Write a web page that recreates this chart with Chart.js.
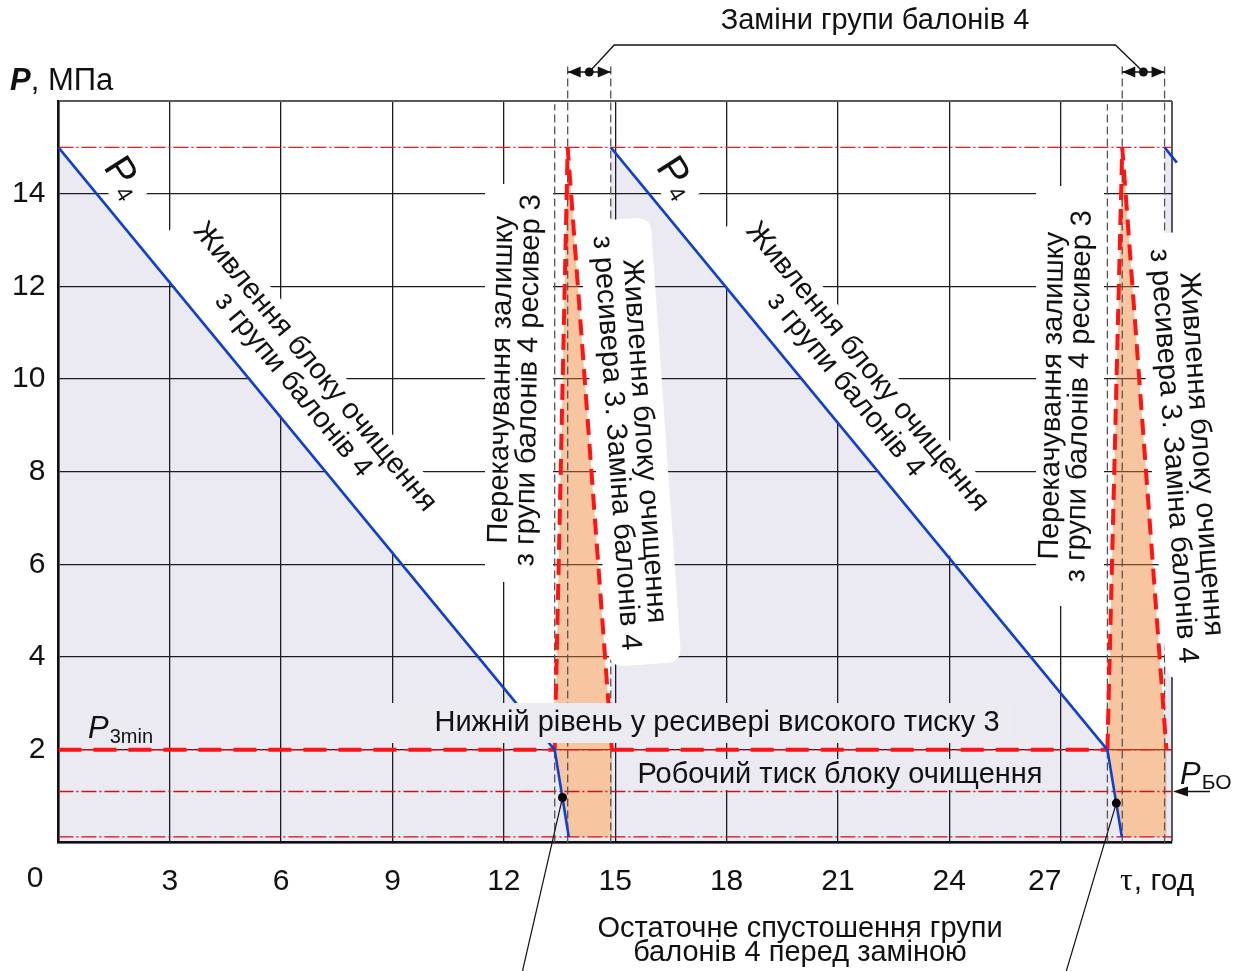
<!DOCTYPE html>
<html lang="uk">
<head>
<meta charset="utf-8">
<title>Тиск у групі балонів 4 та ресивері 3</title>
<script src="https://cdn.jsdelivr.net/npm/chart.js@4.4.1/dist/chart.umd.min.js"></script>
<style>
  html, body { margin: 0; padding: 0; background: #fff; }
  canvas { display: block; }
</style>
</head>
<body>
<canvas id="chart" width="1243" height="971"></canvas>
<script>
// Time axis (τ, h) and pressure axis (P, MPa)
const xTicks = [3, 6, 9, 12, 15, 18, 21, 24];
const yTicks = [2, 4, 6, 8, 10, 12, 14];
const xCornerTicks = [0, 27];

// Supply of the cleaning unit from cylinder group 4, three cycles
const supplyT1 = [0, 13.37, 13.75];
const supplyP1 = [15, 2, 0.12];
const supplyT2 = [14.88, 28.26, 28.65];
const supplyP2 = [15, 2, 0.12];
const supplyT3 = [29.8, 30.13];
const supplyP3 = [15, 14.67];

// Receiver 3: transfer of the remainder, then supply while group 4 is replaced
const receiverT1 = [13.37, 13.72, 14.91];
const receiverT2 = [28.26, 28.66, 29.85];
const receiverP = [2, 15, 2];

// Pressure levels
const pGroupFull = 15;  // P4
const pRecvMin = 2;     // P3min
const pUnit = 1.1;      // PБО
const pEmpty = 0.12;

// Final emptying of group 4 before replacement
const drainT = [13.58, 28.5];
const drainP = [0.97, 0.85];

// ---- styles ----
const FONT = '"Liberation Sans", Arial, Helvetica, sans-serif';
const SERIF = '"Liberation Serif", "Times New Roman", serif';
const TXT = 29;
const BLUE = '#1040cc';
const RED = '#ff1414';
const DARK_RED = '#d0101a';
const LAVENDER = 'rgba(40, 20, 110, 0.095)';
const PEACH = 'rgba(238, 128, 44, 0.45)';
const LABEL_BG = '#ecebf2';
const INK = '#111';

const pts = (ts, ps) => ts.map((t, i) => ({ x: t, y: ps[i] }));
const gapAt = t => ({ x: t, y: null });

// area under the group 4 pressure curve
const lavenderPts = [
  ...pts(supplyT1, supplyP1),
  { x: supplyT2[0], y: pEmpty },
  ...pts(supplyT2, supplyP2),
  { x: supplyT3[0], y: pEmpty },
  ...pts(supplyT3, supplyP3)
];

// receiver 3 region: triangle plus the strip under it down to the emptying level
function receiverShape(rt, st, sp) {
  return [
    ...pts(rt, receiverP),
    { x: rt[2], y: pEmpty },
    { x: st[2], y: sp[2] },
    { x: rt[0], y: receiverP[0] }
  ];
}

const levelLine = (p, color) => ({
  data: [{ x: 0, y: p }, { x: 30, y: p }],
  borderColor: color, borderWidth: 1.3, borderDash: [15, 3, 2, 3],
  pointRadius: 0, fill: false, order: 8
});

const dashedTimes = [
  { t: receiverT1[0], top: 15.93 }, { t: receiverT1[1], top: 16.8 }, { t: supplyT2[0], top: 16.8 },
  { t: receiverT2[0], top: 15.93 }, { t: receiverT2[1], top: 16.8 }, { t: supplyT3[0], top: 16.8 }
];
const dashedPts = [];
dashedTimes.forEach(d => { dashedPts.push({ x: d.t, y: 0 }, { x: d.t, y: d.top }, gapAt(d.t)); });

const datasets = [
  { data: lavenderPts, fill: 'origin', backgroundColor: LAVENDER, borderWidth: 0, pointRadius: 0, order: 10 },
  { data: receiverShape(receiverT1, supplyT1, supplyP1), fill: 'shape', backgroundColor: PEACH, borderWidth: 0, pointRadius: 0, order: 9 },
  { data: receiverShape(receiverT2, supplyT2, supplyP2), fill: 'shape', backgroundColor: PEACH, borderWidth: 0, pointRadius: 0, order: 9 },
  levelLine(pGroupFull, RED),
  levelLine(pRecvMin, RED),
  levelLine(pUnit, DARK_RED),
  levelLine(pEmpty, DARK_RED),
  { data: dashedPts, borderColor: '#555', borderWidth: 1.3, borderDash: [8, 4], pointRadius: 0, fill: false, clip: false, order: 7 },
  { data: [{ x: 0, y: pRecvMin }, { x: supplyT1[1], y: pRecvMin }, gapAt(supplyT1[1]),
           { x: supplyT2[0], y: pRecvMin }, { x: supplyT2[1], y: pRecvMin }],
    borderColor: RED, borderWidth: 4, borderDash: [23, 12], pointRadius: 0, fill: false, order: 6 },
  { data: [...pts(receiverT1, receiverP), gapAt(receiverT1[2]), ...pts(receiverT2, receiverP)],
    borderColor: RED, borderWidth: 4, borderDash: [16, 9], pointRadius: 0, fill: false, order: 6 },
  { data: [...pts(supplyT1, supplyP1), gapAt(supplyT1[2]), ...pts(supplyT2, supplyP2), gapAt(supplyT2[2]), ...pts(supplyT3, supplyP3)],
    borderColor: BLUE, borderWidth: 2.6, pointRadius: 0, fill: false, clip: false, order: 5 },
  { data: pts(drainT, drainP), showLine: false, pointRadius: 4.5, pointBackgroundColor: '#000', pointBorderWidth: 0, order: 1 }
];

// ---- drawing helpers ----
function rotRect(ctx, cx, cy, deg, w, h, r, color) {
  ctx.save();
  ctx.translate(cx, cy);
  ctx.rotate(deg * Math.PI / 180);
  ctx.fillStyle = color;
  ctx.beginPath();
  if (r > 0 && ctx.roundRect) ctx.roundRect(-w / 2, -h / 2, w, h, r);
  else ctx.rect(-w / 2, -h / 2, w, h);
  ctx.fill();
  ctx.restore();
}

function rotLines(ctx, lines, cx, cy, deg, size, pitch) {
  ctx.save();
  ctx.translate(cx, cy);
  ctx.rotate(deg * Math.PI / 180);
  ctx.font = `${size}px ${FONT}`;
  ctx.fillStyle = INK;
  ctx.textAlign = 'center';
  ctx.textBaseline = 'middle';
  const n = lines.length;
  lines.forEach((s, i) => ctx.fillText(s, 0, (i - (n - 1) / 2) * pitch));
  ctx.restore();
}

// main text with a subscript, left edge at x, baseline at y
function subText(ctx, main, sub, x, y, mainFont, subFont, subDrop) {
  ctx.save();
  ctx.textAlign = 'left';
  ctx.textBaseline = 'alphabetic';
  ctx.fillStyle = INK;
  ctx.font = mainFont;
  ctx.fillText(main, x, y);
  const w = ctx.measureText(main).width;
  ctx.font = subFont;
  ctx.fillText(sub, x + w + 1, y + subDrop);
  ctx.restore();
}

function arrowHead(ctx, tipX, tipY, dir, len, half) {
  ctx.beginPath();
  ctx.moveTo(tipX, tipY);
  ctx.lineTo(tipX - dir * len, tipY - half);
  ctx.lineTo(tipX - dir * len, tipY + half);
  ctx.closePath();
  ctx.fill();
}

function geometry(chart) {
  const X = v => chart.scales.x.getPixelForValue(v);
  const Y = v => chart.scales.y.getPixelForValue(v);
  const ang = Math.atan2(Y(supplyP1[1]) - Y(supplyP1[0]), X(supplyT1[1]) - X(supplyT1[0])) * 180 / Math.PI;
  const shift = X(supplyT2[0]) - X(supplyT1[0]);
  return { X, Y, ang, shift };
}

const annotate = {
  id: 'annotate',
  beforeDatasetsDraw(chart) {
    const { ctx } = chart;
    const { ang, shift } = geometry(chart);
    const a = ang * Math.PI / 180;
    ctx.save();
    [0, shift].forEach(k => {
      // backing of P4
      rotRect(ctx, 126 + k, 177, ang, 52, 48, 0, '#fff');
      // backing of the supply caption along the curve
      rotRect(ctx, 304 + k + 6 * -Math.sin(a), 376 + 6 * Math.cos(a), ang, 396, 74, 0, '#fff');
    });
    ctx.fillStyle = '#fff';
    ctx.fillRect(485, 184, 68, 398);
    ctx.fillRect(1036, 186, 68, 420);
    ctx.fillRect(630, 759, 422, 31);
    ctx.restore();
  },
  afterDatasetsDraw(chart) {
    const { ctx } = chart;
    const { ang, shift } = geometry(chart);
    const a = ang * Math.PI / 180;
    // caption boxes laid over the plot
    rotRect(ctx, 630, 442, 86, 446, 72, 13, '#fff');
    rotRect(ctx, 1187, 455, 86, 446, 72, 13, '#fff');
    ctx.fillStyle = LABEL_BG;
    ctx.fillRect(392, 703, 620, 40);

    [0, shift].forEach(k => {
      rotLines(ctx, ['Живлення блоку очищення', 'з групи балонів 4'], 304 + k, 376, ang, TXT, 28);
      // P4 label
      ctx.save();
      ctx.translate(124 + k, 176);
      ctx.rotate(a + 0.12);
      subText(ctx, 'P', '4', -19, 13, `40px ${FONT}`, `23px ${FONT}`, 4);
      ctx.restore();
    });

    rotLines(ctx, ['Перекачування залишку', 'з групи балонів 4 ресивер 3'], 515, 380, -89, TXT, 27);
    rotLines(ctx, ['Перекачування залишку', 'з групи балонів 4 ресивер 3'], 1066, 396, -89, TXT, 27);
    rotLines(ctx, ['Живлення блоку очищення', 'з ресивера 3. Заміна балонів 4'], 630, 442, 86, TXT, 28);
    rotLines(ctx, ['Живлення блоку очищення', 'з ресивера 3. Заміна балонів 4'], 1187, 455, 86, TXT, 28);

    ctx.save();
    ctx.fillStyle = INK;
    ctx.font = `${TXT}px ${FONT}`;
    ctx.textAlign = 'center';
    ctx.textBaseline = 'middle';
    ctx.fillText('Нижній рівень у ресивері високого тиску 3', 717, 723);
    ctx.fillText('Робочий тиск блоку очищення', 840, 775);
    ctx.restore();
  },
  afterDraw(chart) {
    const { ctx, chartArea } = chart;
    const { X, Y } = geometry(chart);
    ctx.save();
    ctx.fillStyle = INK;
    ctx.strokeStyle = INK;

    // axis titles
    ctx.textBaseline = 'alphabetic';
    ctx.textAlign = 'left';
    ctx.font = `italic bold 31px ${FONT}`;
    ctx.fillText('P', 10, 90);
    let w = ctx.measureText('P').width;
    ctx.font = `31px ${FONT}`;
    ctx.fillText(', МПа', 10 + w, 90);

    ctx.font = `32px ${SERIF}`;
    ctx.fillText('τ', 1120, 890);
    w = ctx.measureText('τ').width;
    ctx.font = `30px ${FONT}`;
    ctx.fillText(', год', 1120 + w + 1, 890);

    // corner tick labels
    ctx.textAlign = 'center';
    ctx.font = `30px ${FONT}`;
    ctx.fillText(String(xCornerTicks[0]), 35, 887);
    ctx.fillText(String(xCornerTicks[1]), X(xCornerTicks[1]) - 16, 890);

    // level labels
    subText(ctx, 'P', '3min', 88, Y(pRecvMin) - 12, `italic 31px ${FONT}`, `20px ${FONT}`, 5);
    subText(ctx, 'P', 'БО', 1180, Y(pUnit) - 8, `italic 31px ${FONT}`, `21px ${FONT}`, 5);
    ctx.lineWidth = 1.5;
    ctx.beginPath();
    ctx.moveTo(1210, Y(pUnit));
    ctx.lineTo(chartArea.right + 10, Y(pUnit));
    ctx.stroke();
    arrowHead(ctx, chartArea.right + 1, Y(pUnit), -1, 15, 5);

    // replacement intervals of group 4
    const dimY = chartArea.top - 29;
    const spans = [[receiverT1[1], supplyT2[0]], [receiverT2[1], supplyT3[0]]];
    const mids = [];
    ctx.lineWidth = 1.3;
    spans.forEach(([t1, t2]) => {
      const x1 = X(t1), x2 = X(t2);
      ctx.beginPath(); ctx.moveTo(x1, dimY); ctx.lineTo(x2, dimY); ctx.stroke();
      arrowHead(ctx, x1, dimY, -1, 13, 5.5);
      arrowHead(ctx, x2, dimY, 1, 13, 5.5);
      const m = (x1 + x2) / 2;
      mids.push(m);
      ctx.beginPath(); ctx.arc(m, dimY, 4.5, 0, Math.PI * 2); ctx.fill();
    });
    ctx.beginPath();
    ctx.moveTo(mids[0], dimY);
    ctx.lineTo(mids[0] + 25, 45);
    ctx.lineTo(mids[1] - 28, 45);
    ctx.lineTo(mids[1], dimY);
    ctx.stroke();
    ctx.font = `${TXT}px ${FONT}`;
    ctx.textBaseline = 'middle';
    ctx.fillText('Заміни групи балонів 4', 875, 21);

    // final emptying note
    ctx.beginPath();
    const leadDx = [-40, -50];
    drainT.forEach((t, i) => {
      const x = X(t), y = Y(drainP[i]);
      ctx.moveTo(x, y);
      ctx.lineTo(x + leadDx[i], 971);
    });
    ctx.lineWidth = 1.2;
    ctx.stroke();
    ctx.textBaseline = 'alphabetic';
    ctx.fillText('Остаточне спустошення групи', 800, 937);
    ctx.fillText('балонів 4 перед заміною', 800, 961);
    ctx.restore();
  }
};

const gridColor = c => (c.tick && (c.tick.value === 30 || c.tick.value === 16)) ? '#5a5a5a' : '#1c1c1c';
const gridWidth = c => (c.tick && (c.tick.value === 30 || c.tick.value === 16)) ? 2 : 1.3;

new Chart(document.getElementById('chart'), {
  type: 'line',
  data: { datasets },
  options: {
    responsive: false,
    animation: false,
    devicePixelRatio: 1,
    spanGaps: false,
    layout: { padding: { top: 101, right: 71, left: 0, bottom: 0 } },
    plugins: { legend: { display: false }, tooltip: { enabled: false } },
    elements: { line: { tension: 0 }, point: { radius: 0 } },
    scales: {
      x: {
        type: 'linear', min: 0, max: 30,
        ticks: {
          stepSize: 3, autoSkip: false, maxRotation: 0, padding: 21, color: INK,
          font: { family: FONT, size: 30 },
          callback: v => xTicks.includes(v) ? String(v) : ''
        },
        grid: { color: gridColor, lineWidth: gridWidth, drawTicks: false },
        border: { color: '#111', width: 2.5 },
        afterFit: s => { s.height = 128.5; }
      },
      y: {
        type: 'linear', min: 0, max: 16,
        ticks: {
          stepSize: 2, autoSkip: false, padding: 13, color: INK,
          font: { family: FONT, size: 30 },
          callback: v => yTicks.includes(v) ? String(v) : ''
        },
        grid: { color: gridColor, lineWidth: gridWidth, drawTicks: false },
        border: { color: '#111', width: 2.5 },
        afterFit: s => { s.width = 58.4; }
      }
    }
  },
  plugins: [annotate]
});
</script>
</body>
</html>
